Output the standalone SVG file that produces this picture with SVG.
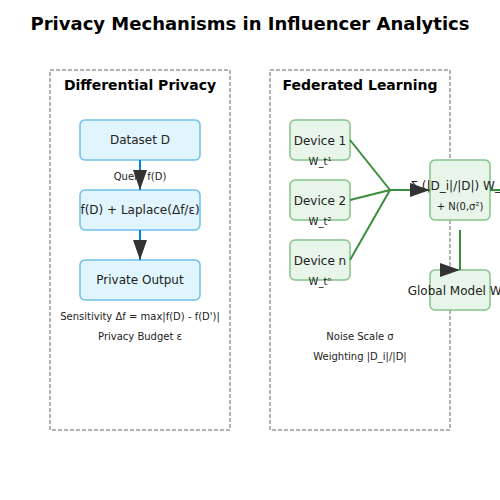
<svg xmlns="http://www.w3.org/2000/svg" width="500" height="500" viewBox="0 0 500 500">
<defs>
<style>
text{font-family:"DejaVu Sans",sans-serif;fill:#222;text-anchor:middle}
.title{font-size:18px;font-weight:bold;fill:#000}
.ptitle{font-size:14px;font-weight:bold;fill:#000}
.lbl{font-size:12px}
.small{font-size:10px}
.panel{fill:#fff;stroke:#999;stroke-width:1.5;stroke-dasharray:4,2}
.blue{fill:#e1f5fe;stroke:#6ec1ea;stroke-width:1.5}
.green{fill:#e8f5e9;stroke:#86c38a;stroke-width:1.5}
.cb{stroke:#0288d1;stroke-width:2;fill:none}
.cg{stroke:#388e3c;stroke-width:2;fill:none}
</style>
<marker id="arr" markerWidth="10" markerHeight="7" refX="10" refY="3.5" orient="auto"><path d="M0,0 L10,3.5 L0,7 Z" fill="#333"/></marker>
<marker id="arr0" markerWidth="10" markerHeight="7" refX="10" refY="3.5" orient="0"><path d="M0,0 L10,3.5 L0,7 Z" fill="#333"/></marker>
</defs>
<rect width="500" height="500" fill="#fff"/>
<text class="title" x="250" y="30">Privacy Mechanisms in Influencer Analytics</text>
<g id="panel-dp">
<rect class="panel" x="50" y="70" width="180" height="360"/>
<text class="ptitle" x="140" y="90">Differential Privacy</text>
</g>
<g id="panel-fl">
<rect class="panel" x="270" y="70" width="180" height="360"/>
<text class="ptitle" x="360" y="90">Federated Learning</text>
</g>
<g id="dataset"><rect class="blue" x="80" y="120" width="120" height="40" rx="5"/><text class="lbl" x="140" y="144">Dataset D</text></g>
<g id="laplace"><rect class="blue" x="80" y="190" width="120" height="40" rx="5"/><text class="lbl" x="140" y="214">f(D) + Laplace(Δf/ε)</text></g>
<g id="output"><rect class="blue" x="80" y="260" width="120" height="40" rx="5"/><text class="lbl" x="140" y="284">Private Output</text></g>
<text class="small" x="140" y="320">Sensitivity Δf = max|f(D) - f(D')|</text>
<text class="small" x="140" y="340">Privacy Budget ε</text>
<text class="small" x="140" y="180">Query f(D)</text>
<g id="device1"><rect class="green" x="290" y="120" width="60" height="40" rx="5"/><text class="lbl" x="320" y="145">Device 1</text><text class="small" x="320" y="165">W_t¹</text></g>
<g id="device2"><rect class="green" x="290" y="180" width="60" height="40" rx="5"/><text class="lbl" x="320" y="205">Device 2</text><text class="small" x="320" y="225">W_t²</text></g>
<g id="devicen"><rect class="green" x="290" y="240" width="60" height="40" rx="5"/><text class="lbl" x="320" y="265">Device n</text><text class="small" x="320" y="285">W_tⁿ</text></g>
<g id="aggregator"><rect class="green" x="430" y="160" width="60" height="60" rx="5"/><text class="lbl" x="458" y="190">Σ (|D_i|/|D|) W_t</text><text class="small" x="460" y="210">+ N(0,σ²)</text></g>
<g id="global"><rect class="green" x="430" y="270" width="60" height="40" rx="5"/><text class="lbl" x="460" y="295">Global Model W_t</text></g>
<text class="small" x="360" y="340">Noise Scale σ</text>
<text class="small" x="360" y="360">Weighting |D_i|/|D|</text>
<g id="connectors">
<line class="cb" x1="140" y1="160" x2="140" y2="190" marker-end="url(#arr)"/>
<line class="cb" x1="140" y1="230" x2="140" y2="260" marker-end="url(#arr)"/>
<line class="cg" x1="350" y1="140" x2="390" y2="190"/>
<line class="cg" x1="350" y1="200" x2="390" y2="190"/>
<line class="cg" x1="350" y1="260" x2="390" y2="190"/>
<line class="cg" x1="390" y1="190" x2="430" y2="190" marker-end="url(#arr)"/>
<line class="cg" x1="490" y1="190" x2="500" y2="190"/>
<line class="cg" x1="460" y1="230" x2="460" y2="270" marker-end="url(#arr0)"/>
</g>
</svg>
